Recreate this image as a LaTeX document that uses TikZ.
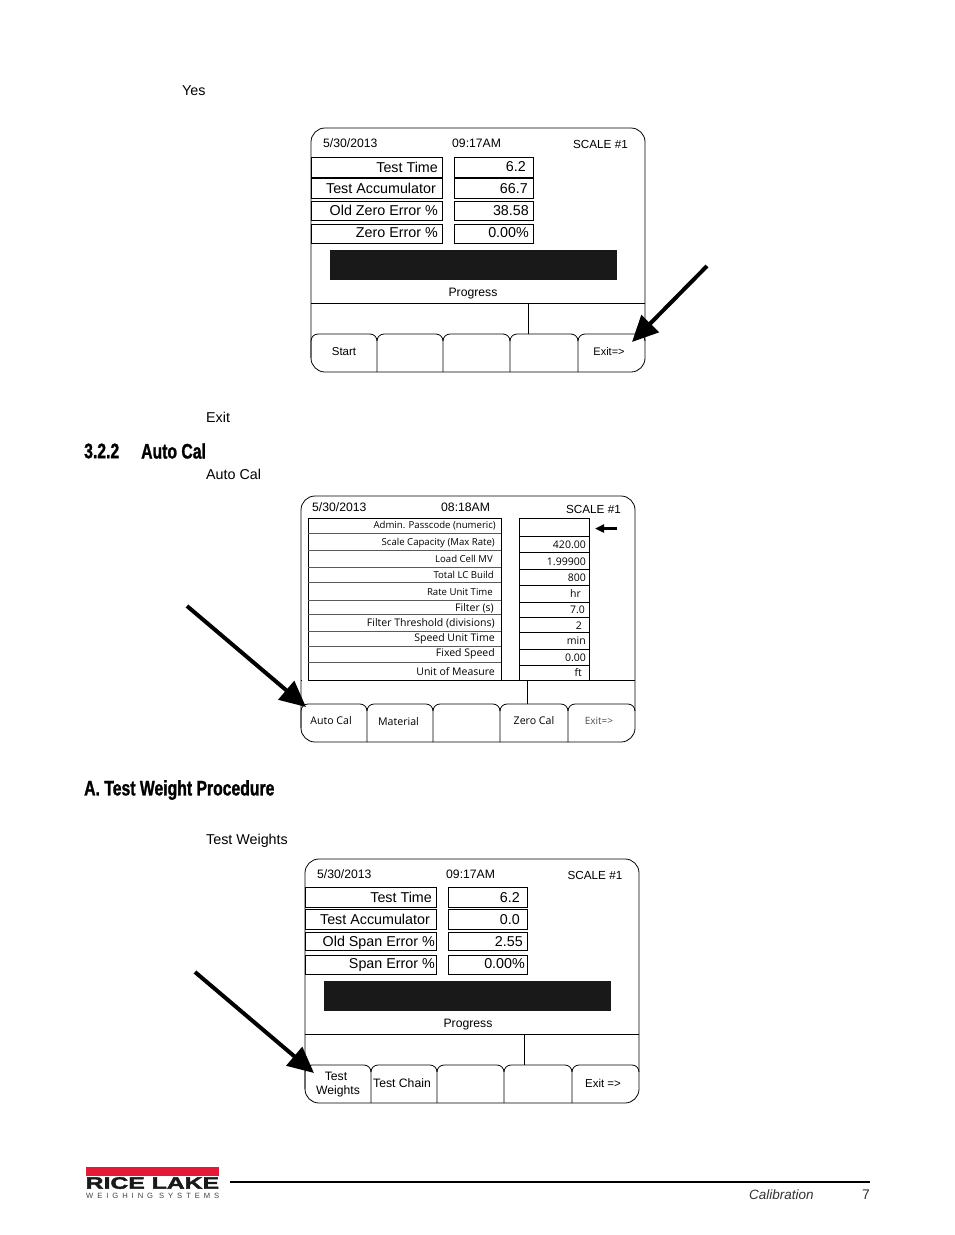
\documentclass[tikz,border=0pt]{standalone}
\usepackage{fontspec}
\setmainfont{Liberation Sans}
\newfontfamily\headfont[FakeStretch=0.75, BoldFeatures={FakeStretch=0.75, FakeBold=1.2}]{Liberation Sans}
\newfontfamily\logofont[FakeStretch=1.5, BoldFeatures={FakeStretch=1.5, FakeBold=2.6}]{Liberation Sans}
\newfontfamily\logosubfont[LetterSpace=52]{Liberation Sans}
\newfontfamily\tablefont{Open Sans}
\usetikzlibrary{arrows.meta}
\definecolor{ricered}{RGB}{227,25,55}
\tikzset{
	bodytxt/.style={font=\fontsize{14.3}{16}\selectfont, inner sep=0pt},
	headtxt/.style={font=\headfont\bfseries\fontsize{21}{24}\selectfont, inner sep=0pt, anchor=west},
	toptxt/.style={font=\fontsize{12.2}{14}\selectfont, inner sep=0pt},
	scaletxt/.style={font=\fontsize{11.7}{14}\selectfont, inner sep=0pt, anchor=east},
	rowtxt/.style={font=\fontsize{14.3}{16}\selectfont, inner sep=0pt, anchor=east},
	keytxt/.style={font=\fontsize{11.5}{14}\selectfont, inner sep=0pt, align=center},
	softtxt/.style={font=\tablefont\fontsize{10.6}{12}\selectfont, inner sep=0pt},
	tabletxt/.style={font=\tablefont\fontsize{9.6}{12}\selectfont, inner sep=0pt, anchor=east},
	tablebig/.style={font=\tablefont\fontsize{10.5}{12}\selectfont, inner sep=0pt, anchor=east},
	bigarrow/.style={line width=4pt, -{Triangle[length=26pt, width=24pt]}},
}
% outline of a screen: line height, key height, bottom, upright x
\newcommand{\screenframe}[4]{
	\draw[line width=0.8pt, rounded corners=14pt]	(0,0) rectangle (334,#3);
	\draw[line width=0.8pt]		(0,#1) -- (334,#1);
	\draw[line width=0.8pt]		(#4,#1) -- (#4,#2);
	\foreach \a/\b/\s in {0/66/#3-14, 66/132/#3, 132/199/#3, 199/267/#3, 267/334/#3}{
		\draw[line width=0.8pt]		(\a,\s) -- (\a,#2+7) to[out=90, in=180] (\a+7,#2) -- (\b-7,#2) to[out=0, in=90] (\b,#2+7);
	}
}
\begin{document}
\begin{tikzpicture}[x=1pt, y=-1pt]
	\useasboundingbox	(0,0) rectangle (954,1235);

	\node[bodytxt, anchor=west] (yes) at (182,91) {Yes};
	\node[bodytxt, anchor=west] (exit) at (206,417) {Exit};
	\node[bodytxt, anchor=west] (autocal) at (206,474) {Auto Cal};
	\node[bodytxt, anchor=west] (testweights) at (206,841) {Test Weights};
	\node[headtxt] (secnum) at (84,451) {3.2.2};
	\node[headtxt] (sectitle) at (141,451) {Auto Cal};
	\node[headtxt] (procedure) at (84,790) {A. Test Weight Procedure};

	\begin{scope}[shift={(311,128)}]
		\screenframe{175}{206}{244}{217}
		\node[toptxt, anchor=west] (date) at (12,15) {5/30/2013};
		\node[toptxt, anchor=west] (time) at (141,15) {09:17AM};
		\node[scaletxt] (scale) at (317,16) {SCALE \#1};
		\foreach \ya/\yb/\lab/\rx/\ly/\val/\vx/\vy in {29/49/Test Time/127/39/6.2/215/39, 50/70/Test Accumulator/125/60/66.7/217/61, 73/92/Old Zero Error \%/127/82.5/38.58/218/83, 96/115/Zero Error \%/127/104.5/0.00\%/218/105}{
			\draw[line width=0.8pt]		(0,\ya) rectangle (131,\yb);
			\draw[line width=0.8pt]		(143,\ya) rectangle (222,\yb);
			\node[rowtxt] at (\rx,\ly) {\lab};
			\node[rowtxt] at (\vx,\vy) {\val};
		}
		\fill[black!90]		(19,122) rectangle (306,152);
		\node[toptxt] (progress) at (162,166) {Progress};
		\node[keytxt] (start) at (33,224) {Start};
		\node[keytxt, font=\fontsize{11}{12}\selectfont] (exitkey) at (298,224) {Exit=>};
	\end{scope}

	\begin{scope}[shift={(301,496)}]
		\screenframe{184}{208}{246}{226}
		\node[toptxt, anchor=west] (datetwo) at (11,11) {5/30/2013};
		\node[toptxt, anchor=west] (timetwo) at (140,11) {08:18AM};
		\node[scaletxt] (scaletwo) at (320,13) {SCALE \#1};
		\fill[white]		(0.5,183.4) rectangle (6.6,184.6);
		\draw[line width=0.8pt]		(7,22) rectangle (200,184);
		\draw[line width=0.8pt]		(218,22) rectangle (288,184);
		\foreach \y in {37, 54, 71, 86, 104, 118, 135, 150, 166}{
			\draw[black!65, line width=0.7pt]		(7,\y) -- (200,\y);
		}
		\foreach \y in {40, 56, 73, 89, 106, 121, 136, 153, 169}{
			\draw[line width=0.6pt]		(218,\y) -- (288,\y);
		}
		\foreach \lab/\rx/\y in {Admin. Passcode (numeric)/195/30, Scale Capacity (Max Rate)/194/47, Load Cell MV/192/63, Total LC Build/193/79, Rate Unit Time/192/96}{
			\node[tabletxt] at (\rx,\y) {\lab};
		}
		\foreach \lab/\rx/\y in {Filter (s)/193/112, Filter Threshold (divisions)/194/127, Speed Unit Time/194/143, Fixed Speed/194/158, Unit of Measure/194/176}{
			\node[tablebig] at (\rx,\y) {\lab};
		}
		\foreach \val/\rx/\y in {420.00/285/49, 1.99900/285/66, 800/285/82, hr/280/98, 7.0/284/114, 2/281/130, min/285/145, 0.00/285/162, ft/281/177}{
			\node[tablebig] at (\rx,\y) {\val};
		}
		\coordinate (pointera) at (316,32.5);
		\coordinate (pointerb) at (294,32.5);
		\draw[line width=2.4pt, -{Triangle[length=9pt, width=8pt]}]		(pointera) -- (pointerb);
		\node[softtxt] (autokey) at (30,225) {Auto Cal};
		\node[softtxt] (materialkey) at (97.5,226) {Material};
		\node[softtxt] (zerokey) at (233,225) {Zero Cal};
		\node[softtxt, font=\tablefont\fontsize{10}{12}\selectfont, text=black!70] (exitkeytwo) at (298,225) {Exit=>};
	\end{scope}

	\begin{scope}[shift={(305,859)}]
		\screenframe{175}{206}{244}{219}
		\node[toptxt, anchor=west] (datethree) at (12,15) {5/30/2013};
		\node[toptxt, anchor=west] (timethree) at (141,15) {09:17AM};
		\node[scaletxt] (scalethree) at (317.5,16) {SCALE \#1};
		\foreach \ya/\yb/\lab/\rx/\ly/\val/\vx/\vy in {28/48/Test Time/127/38/6.2/215/39, 50/70/Test Accumulator/125/60/0.0/215/61, 73/91/Old Span Error \%/130/84/2.55/218/83, 96/115/Span Error \%/130/106/0.00\%/220/105}{
			\draw[line width=0.8pt]		(0,\ya) rectangle (131,\yb);
			\draw[line width=0.8pt]		(143,\ya) rectangle (222,\yb);
			\node[rowtxt] at (\rx,\ly) {\lab};
			\node[rowtxt] at (\vx,\vy) {\val};
		}
		\fill[black!90]		(19,122) rectangle (306,152);
		\node[toptxt] (progressthree) at (163,166) {Progress};
		\node[keytxt, font=\fontsize{12.2}{14}\selectfont] (weightskey) at (33,226) {Test\kern4pt\\ Weights};
		\node[keytxt, font=\fontsize{12.2}{14}\selectfont] (chainkey) at (97,224) {Test Chain};
		\node[keytxt] (exitkeythree) at (298,224) {Exit =>};
	\end{scope}

	\coordinate (arrowonea) at (707,266);
	\coordinate (arrowoneb) at (632,342);
	\coordinate (arrowtwoa) at (187,606);
	\coordinate (arrowtwob) at (306,707);
	\coordinate (arrowthreea) at (195,972);
	\coordinate (arrowthreeb) at (314,1073);
	\draw[bigarrow]		(arrowonea) -- (arrowoneb);
	\draw[bigarrow]		(arrowtwoa) -- (arrowtwob);
	\draw[bigarrow]		(arrowthreea) -- (arrowthreeb);

	\fill[ricered]		(86,1167) rectangle (219,1176);
	\node[inner sep=0pt, anchor=west, font=\logofont\bfseries\fontsize{16.5}{17}\selectfont, text=black!90] (logo) at (85.5,1183) {RICE LAKE};
	\node[inner sep=0pt, anchor=west, font=\logosubfont\fontsize{7.6}{9}\selectfont, text=black!75] (logosub) at (86,1196) {WEIGHING SYSTEMS};
	\coordinate (rulea) at (230,1182);
	\coordinate (ruleb) at (870,1182);
	\draw[line width=1.6pt]		(rulea) -- (ruleb);
	\node[inner sep=0pt, anchor=west, font=\itshape\fontsize{13.5}{16}\selectfont, text=black!80] (footer) at (749,1195) {Calibration};
	\node[inner sep=0pt, anchor=east, font=\fontsize{14}{16}\selectfont, text=black!80] (pagenum) at (870,1195) {7};
\end{tikzpicture}
\end{document}
